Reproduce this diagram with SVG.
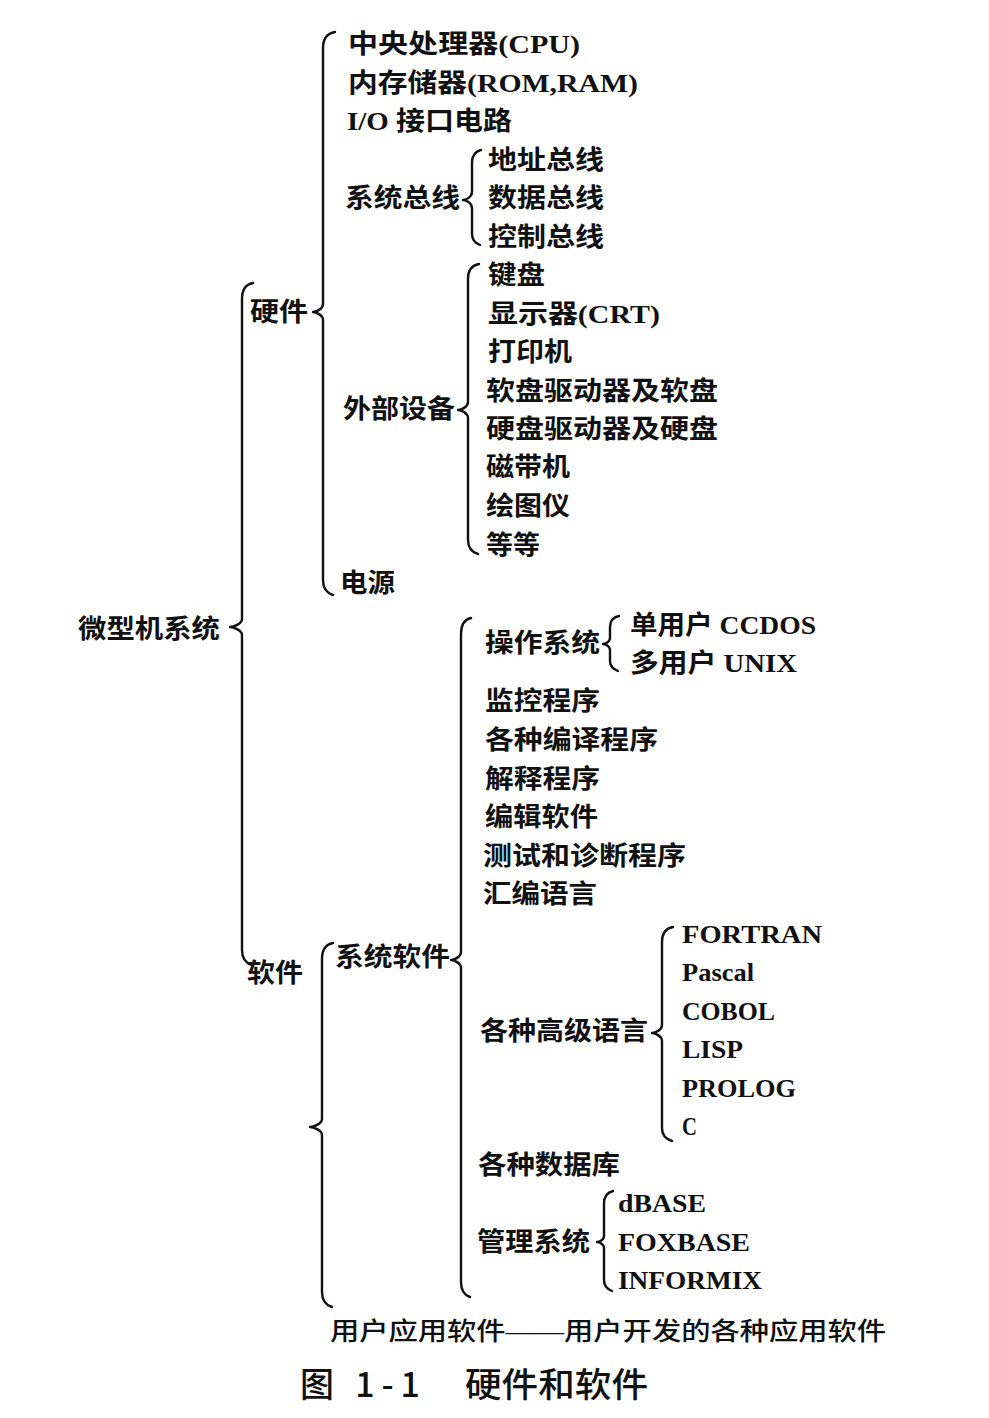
<svg xmlns="http://www.w3.org/2000/svg" width="989" height="1418" viewBox="0 0 989 1418">
<style>
.t{font-family:"Liberation Serif","Noto Sans CJK SC",serif;font-size:26px;font-weight:700;fill:#111}
.u{font-family:"Liberation Serif","Noto Sans CJK SC",serif;font-size:25px;font-weight:500;fill:#111}
.cap{font-family:"Liberation Serif","Noto Sans CJK SC",serif;font-size:34px;font-weight:500;fill:#111}
.b{fill:none;stroke:#111;stroke-width:2.4;stroke-linecap:round;stroke-linejoin:round}
</style>
<rect width="989" height="1418" fill="#fff"/>
<g id="connectors">
<path class="b" d="M253,283 Q242,285 242,299 L242,619 C242,624 233,627 230,627 C233,627 242,630 242,635 L242,950 Q242,962 252,965"/>
<path class="b" d="M335,32 Q323,34 323,48 L323,304 C323,309 316,312 313,312 C316,312 323,315 323,320 L323,580 Q323,592 333,595"/>
<path class="b" d="M481,150 Q472,152 472,163 L472,192 C472,197 466,200 463,200 C466,200 472,203 472,208 L472,234 Q472,242 480,245"/>
<path class="b" d="M479,264 Q468,266 468,279 L468,402 C468,407 461,410 458,410 C461,410 468,413 468,418 L468,540 Q468,551 478,554"/>
<path class="b" d="M619,616 Q610,618 610,627 L610,638 C610,642 605,644 603,644 C605,644 610,646 610,650 L610,661 Q610,668 618,671"/>
<path class="b" d="M471,618 Q461,620 461,634 L461,952 C461,957 454,960 451,960 C454,960 461,963 461,968 L461,1282 Q461,1294 470,1297"/>
<path class="b" d="M333,943 Q322,945 322,959 L322,1119 C322,1124 313,1127 310,1127 C313,1127 322,1130 322,1135 L322,1292 Q322,1304 332,1307"/>
<path class="b" d="M673,927 Q662,929 662,942 L662,1025 C662,1030 655,1033 652,1033 C655,1033 662,1036 662,1041 L662,1128 Q662,1138 672,1141"/>
<path class="b" d="M613,1191 Q604,1193 604,1204 L604,1236 C604,1240 599,1242 597,1242 C599,1242 604,1244 604,1248 L604,1280 Q604,1288 612,1291"/>
</g>
<g id="n-root"><text class="t" x="78" y="638" textLength="142" lengthAdjust="spacingAndGlyphs">微型机系统</text></g>
<g id="n-hw"><text class="t" x="250" y="321" textLength="58" lengthAdjust="spacingAndGlyphs">硬件</text></g>
<g id="n-cpu"><text class="t" x="348" y="53" textLength="232" lengthAdjust="spacingAndGlyphs">中央处理器(CPU)</text></g>
<g id="n-mem"><text class="t" x="348" y="92" textLength="290" lengthAdjust="spacingAndGlyphs">内存储器(ROM,RAM)</text></g>
<g id="n-io"><text class="t" x="347" y="130" textLength="165" lengthAdjust="spacingAndGlyphs">I/O 接口电路</text></g>
<g id="n-bus"><text class="t" x="345" y="207" textLength="115" lengthAdjust="spacingAndGlyphs">系统总线</text></g>
<g id="n-addr"><text class="t" x="488" y="169" textLength="116" lengthAdjust="spacingAndGlyphs">地址总线</text></g>
<g id="n-data"><text class="t" x="488" y="207" textLength="116" lengthAdjust="spacingAndGlyphs">数据总线</text></g>
<g id="n-ctrl"><text class="t" x="488" y="246" textLength="116" lengthAdjust="spacingAndGlyphs">控制总线</text></g>
<g id="n-periph"><text class="t" x="343" y="418" textLength="112" lengthAdjust="spacingAndGlyphs">外部设备</text></g>
<g id="n-kb"><text class="t" x="488" y="284" textLength="57" lengthAdjust="spacingAndGlyphs">键盘</text></g>
<g id="n-crt"><text class="t" x="488" y="323" textLength="172" lengthAdjust="spacingAndGlyphs">显示器(CRT)</text></g>
<g id="n-prn"><text class="t" x="488" y="361" textLength="84" lengthAdjust="spacingAndGlyphs">打印机</text></g>
<g id="n-fdd"><text class="t" x="486" y="400" textLength="232" lengthAdjust="spacingAndGlyphs">软盘驱动器及软盘</text></g>
<g id="n-hdd"><text class="t" x="486" y="438" textLength="232" lengthAdjust="spacingAndGlyphs">硬盘驱动器及硬盘</text></g>
<g id="n-tape"><text class="t" x="486" y="476" textLength="84" lengthAdjust="spacingAndGlyphs">磁带机</text></g>
<g id="n-plot"><text class="t" x="486" y="515" textLength="84" lengthAdjust="spacingAndGlyphs">绘图仪</text></g>
<g id="n-etc"><text class="t" x="486" y="554" textLength="54" lengthAdjust="spacingAndGlyphs">等等</text></g>
<g id="n-power"><text class="t" x="340" y="592" textLength="55" lengthAdjust="spacingAndGlyphs">电源</text></g>
<g id="n-sw"><text class="t" x="247" y="982" textLength="56" lengthAdjust="spacingAndGlyphs">软件</text></g>
<g id="n-syssw"><text class="t" x="335" y="966" textLength="115" lengthAdjust="spacingAndGlyphs">系统软件</text></g>
<g id="n-os"><text class="t" x="485" y="652" textLength="115" lengthAdjust="spacingAndGlyphs">操作系统</text></g>
<g id="n-ccdos"><text class="t" x="630" y="634" textLength="186" lengthAdjust="spacingAndGlyphs">单用户 CCDOS</text></g>
<g id="n-unix"><text class="t" x="630" y="672" textLength="167" lengthAdjust="spacingAndGlyphs">多用户 UNIX</text></g>
<g id="n-mon"><text class="t" x="485" y="710" textLength="115" lengthAdjust="spacingAndGlyphs">监控程序</text></g>
<g id="n-comp"><text class="t" x="485" y="749" textLength="173" lengthAdjust="spacingAndGlyphs">各种编译程序</text></g>
<g id="n-interp"><text class="t" x="485" y="788" textLength="115" lengthAdjust="spacingAndGlyphs">解释程序</text></g>
<g id="n-edit"><text class="t" x="485" y="826" textLength="113" lengthAdjust="spacingAndGlyphs">编辑软件</text></g>
<g id="n-test"><text class="t" x="483" y="865" textLength="203" lengthAdjust="spacingAndGlyphs">测试和诊断程序</text></g>
<g id="n-asm"><text class="t" x="483" y="903" textLength="114" lengthAdjust="spacingAndGlyphs">汇编语言</text></g>
<g id="n-hll"><text class="t" x="480" y="1040" textLength="168" lengthAdjust="spacingAndGlyphs">各种高级语言</text></g>
<g id="n-fortran"><text class="t" x="682" y="943" textLength="140" lengthAdjust="spacingAndGlyphs">FORTRAN</text></g>
<g id="n-pascal"><text class="t" x="682" y="981" textLength="72" lengthAdjust="spacingAndGlyphs">Pascal</text></g>
<g id="n-cobol"><text class="t" x="682" y="1020" textLength="93" lengthAdjust="spacingAndGlyphs">COBOL</text></g>
<g id="n-lisp"><text class="t" x="682" y="1058" textLength="61" lengthAdjust="spacingAndGlyphs">LISP</text></g>
<g id="n-prolog"><text class="t" x="682" y="1097" textLength="114" lengthAdjust="spacingAndGlyphs">PROLOG</text></g>
<g id="n-c"><text class="t" x="682" y="1135" textLength="15" lengthAdjust="spacingAndGlyphs">C</text></g>
<g id="n-db"><text class="t" x="478" y="1174" textLength="142" lengthAdjust="spacingAndGlyphs">各种数据库</text></g>
<g id="n-dbms"><text class="t" x="477" y="1251" textLength="113" lengthAdjust="spacingAndGlyphs">管理系统</text></g>
<g id="n-dbase"><text class="t" x="618" y="1212" textLength="88" lengthAdjust="spacingAndGlyphs">dBASE</text></g>
<g id="n-foxbase"><text class="t" x="618" y="1251" textLength="132" lengthAdjust="spacingAndGlyphs">FOXBASE</text></g>
<g id="n-informix"><text class="t" x="618" y="1289" textLength="144" lengthAdjust="spacingAndGlyphs">INFORMIX</text></g>
<g id="n-app"><text class="u" x="330" y="1340" textLength="556" lengthAdjust="spacingAndGlyphs">用户应用软件——用户开发的各种应用软件</text></g>
<g id="caption"><text class="cap" x="300" y="1397"><tspan textLength="120" lengthAdjust="spacing" font-family="Noto Sans CJK SC, sans-serif">图 1-1</tspan><tspan x="465" textLength="183" lengthAdjust="spacingAndGlyphs">硬件和软件</tspan></text></g>
</svg>
